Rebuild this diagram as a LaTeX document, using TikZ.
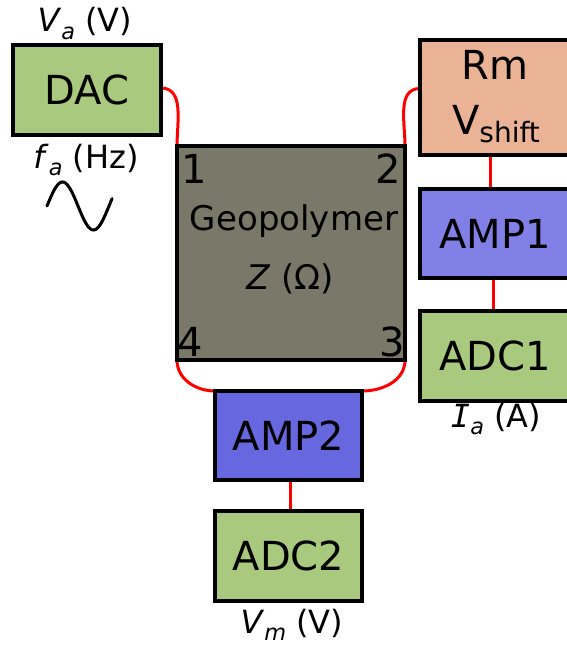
\documentclass[tikz,border=0pt]{standalone}
\usepackage{fontspec}
\setmainfont{DejaVu Sans}
\newfontfamily\monofam{DejaVu Sans Mono}
\usetikzlibrary{backgrounds}
\newcommand\setfs[1]{\fontsize{#1}{#1}\selectfont}
\newcommand\mysub[1]{\raisebox{-0.22em}{\scalebox{0.7}{#1}}}
\definecolor{dacgreen}{HTML}{A8C97E}
\definecolor{geogray}{HTML}{7A7868}
\definecolor{rmsalmon}{HTML}{EAB396}
\definecolor{ampone}{HTML}{8080E6}
\definecolor{amptwo}{HTML}{6767DF}
\begin{document}
\begin{tikzpicture}[x=1pt,y=-1pt,
  box/.style={draw=black, line width=3.5pt, inner sep=0pt, outer sep=0pt, font=\setfs{40}},
  wire/.style={red, line width=3pt},
  lbl/.style={inner sep=0pt, anchor=base, font=\setfs{32}},
  corner/.style={inner sep=0pt, font=\setfs{40}}]
\useasboundingbox (0,0) rectangle (566,650);
% boxes (sizes are outer minus line width)
\node[box, fill=dacgreen, minimum width=148pt, minimum height=90pt] (dac) at (87,90) {DAC};
\node[box, fill=geogray, minimum width=228pt, minimum height=214pt] (geo) at (291,253) {};
\node[box, fill=rmsalmon, minimum width=150pt, minimum height=115pt, align=center] (rm) at (495,97.5) {};
\node[box, fill=ampone, minimum width=150pt, minimum height=89pt] (amp1) at (495,233.5) {AMP1};
\node[box, fill=dacgreen, minimum width=150pt, minimum height=90pt] (adc1) at (495,356) {ADC1};
\node[box, fill=amptwo, minimum width=147pt, minimum height=89pt] (amp2) at (288.5,435.5) {AMP2};
\node[box, fill=dacgreen, minimum width=147pt, minimum height=90pt] (adc2) at (288.5,556) {ADC2};
% text inside Rm
\node[lbl, font=\setfs{40}] (rmt) at (495,80) {Rm};
\node[lbl, font=\setfs{40}] (vshift) at (496,135) {V\raisebox{-0.18em}{\setfs{28}shift}};
% text inside geopolymer
\node[lbl, font=\setfs{34}] (geot) at (294,230) {Geopolymer};
\node[lbl, font=\setfs{34}] (zt) at (290,289) {\textit{Z} (Ω)};
\node[corner, anchor=base west] (c1) at (181,183) {1};
\node[corner, anchor=base east] (c2) at (401,183) {2};
\node[corner, anchor=base west] (c4) at (177,356) {4};
\node[corner, anchor=base east] (c3) at (405,356) {3};
% labels
\node[lbl] (va) at (85,32) {\textit{V}\mysub{\textit{a}} (V)};
\node[lbl] (fa) at (86,168) {\textit{f}\mysub{\textit{a}} (Hz)};
\node[lbl] (ia) at (496,427) {{\monofam\itshape I}\mysub{\textit{a}} (A)};
\node[lbl] (vm) at (292,633) {\textit{V}\mysub{\textit{m}} (V)};
% sine
\draw[line width=3pt, line cap=round] plot[domain=0:1.05, samples=60, smooth] ({47+62*\x},{206-24*sin(360*\x)});
% wires
\begin{scope}[on background layer]
\draw[wire] (dac.east) ++(0,-2) to[out=0,in=90] (geo.north west);
\draw[wire] (rm.west) ++(0,-9) to[out=180,in=90] (geo.north east);
\draw[wire] (geo.south west) to[out=-90,in=180] (amp2.north west);
\draw[wire] (geo.south east) to[out=-90,in=0] (amp2.north east);
\draw[wire] ([xshift=-5pt]rm.south) -- ([xshift=-5pt]amp1.north);
\draw[wire] ([xshift=-2pt]amp1.south) -- ([xshift=-2pt]adc1.north);
\draw[wire] ([xshift=1.5pt]amp2.south) -- ([xshift=1.5pt]adc2.north);
\end{scope}
\end{tikzpicture}
\end{document}
